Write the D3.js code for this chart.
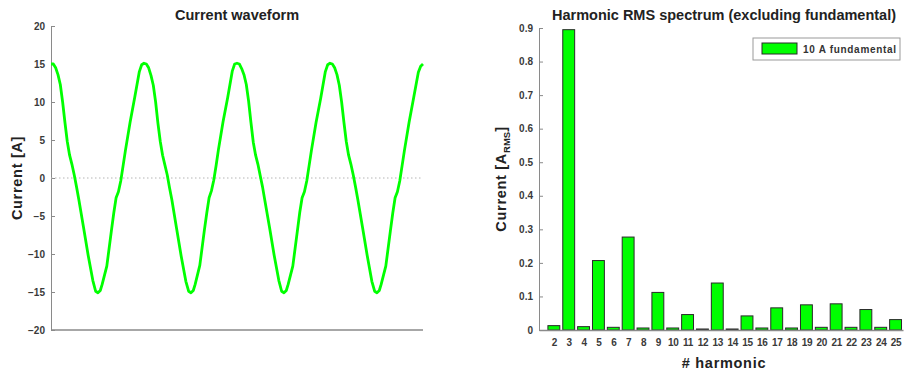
<!DOCTYPE html>
<html>
<head>
<meta charset="utf-8">
<script src="https://cdn.jsdelivr.net/npm/d3@7"></script>
<style>
    body { margin: 0; background: #fff; }
    svg { font-family: "Liberation Sans", Arial, sans-serif; }
    .axis path, .axis line { stroke: #8a8a8a; }
    .axis text { fill: #3a3a3a; font-size: 10px; font-weight: bold; }
    .title { fill: #222; font-weight: bold; font-size: 14.5px; }
    .label { fill: #222; font-weight: bold; font-size: 14.5px; letter-spacing: 0.7px; }
</style>
</head>
<body>
<svg id="chart" width="911" height="375"></svg>
<script>
// waveform samples (time in ms, current in A)
var waveTime = [
    0, 0.5, 1, 1.5, 2, 2.5, 3, 3.5, 4, 4.5, 5, 5.5, 6, 7, 8, 9, 9.6, 10.1, 10.6, 11, 12, 13, 13.5, 14, 14.5, 15, 15.5, 16, 17, 18, 19, 19.5,
    20, 20.5, 21, 21.5, 22, 22.5, 23, 23.5, 24, 24.5, 25, 25.5, 26, 27, 28, 29, 29.6, 30.1, 30.6, 31, 32, 33, 33.5, 34, 34.5, 35, 35.5, 36, 37, 38, 39, 39.5,
    40, 40.5, 41, 41.5, 42, 42.5, 43, 43.5, 44, 44.5, 45, 45.5, 46, 47, 48, 49, 49.6, 50.1, 50.6, 51, 52, 53, 53.5, 54, 54.5, 55, 55.5, 56, 57, 58, 59, 59.5,
    60, 60.5, 61, 61.5, 62, 62.5, 63, 63.5, 64, 64.5, 65, 65.5, 66, 67, 68, 69, 69.6, 70.1, 70.6, 71, 72, 73, 73.5, 74, 74.5, 75, 75.5, 76, 77, 78, 79, 79.5, 80
];
var waveCurrent = [
    15.0, 15.0, 14.5, 13.6, 12.3, 10.0, 7.3, 4.8, 3.0, 1.8, 0.4, -1.2, -2.9, -6.5, -10.2, -13.5, -14.9, -15.1, -14.8, -14.0, -11.6, -6.9, -4.6, -2.6, -1.8, -0.4, 1.6, 3.6, 7.3, 10.6, 14.0, 14.9,
    15.1, 15.0, 14.5, 13.5, 12.2, 10.0, 7.2, 4.8, 3.0, 1.7, 0.4, -1.3, -2.9, -6.6, -10.3, -13.6, -14.9, -15.1, -14.8, -14.0, -11.5, -6.8, -4.6, -2.6, -1.7, -0.3, 1.6, 3.7, 7.4, 10.6, 14.1, 15.0,
    15.1, 15.0, 14.4, 13.6, 12.3, 10.1, 7.3, 4.7, 3.0, 1.8, 0.3, -1.2, -3.0, -6.5, -10.2, -13.5, -14.9, -15.1, -14.8, -14.0, -11.6, -6.9, -4.5, -2.6, -1.8, -0.4, 1.6, 3.6, 7.3, 10.5, 14.0, 14.9,
    15.1, 15.0, 14.5, 13.6, 12.2, 10.0, 7.3, 4.8, 3.0, 1.8, 0.4, -1.2, -2.9, -6.5, -10.2, -13.6, -14.9, -15.1, -14.8, -14.0, -11.6, -6.9, -4.6, -2.6, -1.8, -0.4, 1.6, 3.6, 7.3, 10.6, 13.9, 14.7, 15.0
];
var waveTicks = [-20, -15, -10, -5, 0, 5, 10, 15, 20];

// harmonic spectrum
var harmonics = [2, 3, 4, 5, 6, 7, 8, 9, 10, 11, 12, 13, 14, 15, 16, 17, 18, 19, 20, 21, 22, 23, 24, 25];
var harmonicRms = [0.013, 0.895, 0.010, 0.207, 0.008, 0.277, 0.006, 0.112, 0.006, 0.046, 0.003, 0.140, 0.003, 0.042,
                   0.006, 0.066, 0.006, 0.075, 0.008, 0.078, 0.008, 0.061, 0.008, 0.031];
var rmsTicks = [0, 0.1, 0.2, 0.3, 0.4, 0.5, 0.6, 0.7, 0.8, 0.9];
var legendLabel = "10 A fundamental";

var svg = d3.select('#chart');
var green = "#00ff00";

// ---- left: current waveform ----
var left = {x0: 51, x1: 423, top: 26, bottom: 330};

var xWave = d3.scaleLinear()
    .domain([0, 80])
    .range([left.x0, left.x1]);

var yWave = d3.scaleLinear()
    .domain([-20, 20])
    .range([left.bottom, left.top]);

svg.append("g")
    .attr("class", "axis")
    .attr("transform", "translate(" + left.x0 + ",0)")
    .call(d3.axisLeft(yWave).tickValues(waveTicks).tickSizeInner(-4).tickSizeOuter(0).tickPadding(6));

svg.append("line")
    .attr("x1", left.x0).attr("x2", left.x1)
    .attr("y1", left.bottom).attr("y2", left.bottom)
    .attr("stroke", "#8a8a8a")
    .attr("stroke-width", 1.5);

// zero reference
svg.append("line")
    .attr("x1", left.x0).attr("x2", left.x1)
    .attr("y1", yWave(0)).attr("y2", yWave(0))
    .attr("stroke", "#b5b5b5")
    .attr("stroke-dasharray", "1.5,2.5");

var waveData = waveTime.map(function(t, i) { return {t: t, v: waveCurrent[i]}; });

svg.append("path")
    .datum(waveData)
    .attr("fill", "none")
    .attr("stroke", green)
    .attr("stroke-width", 2.8)
    .attr("stroke-linejoin", "round")
    .attr("d", d3.line()
        .x(function(d) { return xWave(d.t); })
        .y(function(d) { return yWave(d.v); }));

svg.append("text")
    .attr("class", "title")
    .attr("x", 237).attr("y", 20)
    .attr("text-anchor", "middle")
    .text("Current waveform");

svg.append("text")
    .attr("class", "label")
    .attr("transform", "translate(22," + yWave(0) + ") rotate(-90)")
    .attr("text-anchor", "middle")
    .text("Current [A]");

// ---- right: harmonic spectrum ----
var right = {x0: 539, x1: 903, top: 28, bottom: 330};

var xHarm = d3.scaleLinear()
    .domain([1, 25.5])
    .range([right.x0, right.x1]);

var yHarm = d3.scaleLinear()
    .domain([0, 0.9])
    .range([right.bottom, right.top]);

var barW = (xHarm(2) - xHarm(1)) * 0.8;

svg.selectAll("rect.bar")
    .data(harmonics)
    .enter()
    .append("rect")
    .attr("class", "bar")
    .attr("x", function(d) { return xHarm(d) - barW / 2; })
    .attr("y", function(d, i) { return yHarm(harmonicRms[i]); })
    .attr("width", barW)
    .attr("height", function(d, i) { return yHarm(0) - yHarm(harmonicRms[i]); })
    .attr("fill", green)
    .attr("stroke", "#2a2a2a")
    .attr("stroke-width", 1);

svg.append("g")
    .attr("class", "axis")
    .attr("transform", "translate(" + right.x0 + ",0)")
    .call(d3.axisLeft(yHarm).tickValues(rmsTicks).tickFormat(function(d) { return d === 0 ? "0" : d3.format(".1f")(d); })
        .tickSizeInner(-4).tickSizeOuter(0).tickPadding(6));

var xAxisHarm = svg.append("g")
    .attr("class", "axis")
    .attr("transform", "translate(0," + right.bottom + ")")
    .call(d3.axisBottom(xHarm).tickValues(harmonics).tickFormat(d3.format("d"))
        .tickSizeInner(0).tickSizeOuter(0).tickPadding(9));
xAxisHarm.select(".domain").attr("stroke-width", 1.5);
xAxisHarm.selectAll("text").attr("letter-spacing", "-0.3px");

svg.append("text")
    .attr("class", "title")
    .attr("x", 724).attr("y", 20)
    .attr("text-anchor", "middle")
    .text("Harmonic RMS spectrum (excluding fundamental)");

svg.append("text")
    .attr("class", "label")
    .attr("x", 724).attr("y", 368)
    .attr("text-anchor", "middle")
    .text("# harmonic");

var yLab = svg.append("text")
    .attr("class", "label")
    .attr("transform", "translate(506," + yHarm(0.45) + ") rotate(-90)")
    .attr("text-anchor", "middle");
yLab.append("tspan").text("Current [A");
yLab.append("tspan").attr("font-size", "9.5px").attr("letter-spacing", "0px").attr("dy", 4).text("RMS");
yLab.append("tspan").attr("dy", -4).text("]");

// legend
var legend = svg.append("g").attr("transform", "translate(753,38)");
legend.append("rect")
    .attr("width", 147).attr("height", 22)
    .attr("fill", "#fff")
    .attr("stroke", "#9a9a9a");
legend.append("rect")
    .attr("x", 9).attr("y", 5)
    .attr("width", 35).attr("height", 11)
    .attr("fill", green)
    .attr("stroke", "#2a2a2a");
legend.append("text")
    .attr("x", 50).attr("y", 14.5)
    .attr("font-size", "10px")
    .attr("letter-spacing", "0.7px")
    .attr("font-weight", "bold")
    .attr("fill", "#333")
    .text(legendLabel);
</script>
</body>
</html>
